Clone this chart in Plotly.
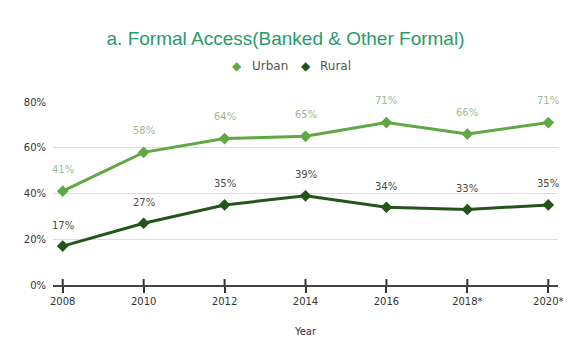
import plotly.graph_objects as go

years = ["2008", "2010", "2012", "2014", "2016", "2018", "2020"]
year_labels = ["2008", "2010", "2012", "2014", "2016", "2018*", "2020*"]
urban = [41, 58, 64, 65, 71, 66, 71]
rural = [17, 27, 35, 39, 34, 33, 35]
series_names = ["Urban", "Rural"]

urban_color = "#5fa843"
rural_color = "#24531b"
LBL = "DejaVu Sans"

fig = go.Figure()
fig.add_trace(go.Scatter(x=years, y=urban, name="Urban", mode="lines+markers",
                         line=dict(color=urban_color, width=3), showlegend=False,
                         marker=dict(symbol="diamond", size=9, color=urban_color)))
fig.add_trace(go.Scatter(x=years, y=rural, name="Rural", mode="lines+markers",
                         line=dict(color=rural_color, width=3), showlegend=False,
                         marker=dict(symbol="diamond", size=9, color=rural_color)))

# upper half of the tick marks that cross the x axis line
tx, ty = [], []
for yr in years:
    tx += [yr, yr, None]
    ty += [0, 2.6, None]
fig.add_trace(go.Scatter(x=tx, y=ty, mode="lines", showlegend=False, hoverinfo="skip",
                         line=dict(color="#333", width=2), connectgaps=False))

ann = []
for i, v in enumerate(urban):
    ann.append(dict(x=i, y=v, xref="x", yref="y", text=f"{v}%", showarrow=False,
                    yshift=22, font=dict(size=10, color="#9cbb92", family=LBL)))
for i, v in enumerate(rural):
    ann.append(dict(x=i, y=v, xref="x", yref="y", text=f"{v}%", showarrow=False,
                    yshift=21, font=dict(size=10, color="#4a4a4a", family=LBL)))

# manual legend
leg_x = [0.3647, 0.5]
for name, col, lx in zip(series_names, [urban_color, rural_color], leg_x):
    ann.append(dict(x=lx, y=1.197, xref="paper", yref="paper", text="◆", showarrow=False,
                    xanchor="center", yanchor="middle",
                    font=dict(size=12, color=col, family=LBL)))
    ann.append(dict(x=lx + 0.025, y=1.197, xref="paper", yref="paper", text=name,
                    showarrow=False, xanchor="left", yanchor="middle",
                    font=dict(size=12, color="#555", family=LBL)))

fig.update_layout(
    width=571, height=355,
    margin=dict(l=53, r=8, t=102, b=70),
    paper_bgcolor="white", plot_bgcolor="white",
    showlegend=False,
    title=dict(text="a. Formal Access(Banked & Other Formal)", x=0.5, xanchor="center",
               y=0.893, yanchor="middle",
               font=dict(size=19, color="#2a9a6a", family="Arial")),
    annotations=ann,
    xaxis=dict(type="category", tickvals=years, ticktext=year_labels,
               range=[-0.12, 6.12], showgrid=False, showline=True,
               linecolor="#444", linewidth=1.5, ticks="outside", ticklen=6,
               tickcolor="#333", tickwidth=2,
               tickfont=dict(size=10, color="#333", family=LBL),
               title=dict(text="Year", font=dict(size=10, color="#333", family=LBL),
                          standoff=22)),
    yaxis=dict(range=[0, 80], tickvals=[0, 20, 40, 60, 80],
               ticktext=["0%", "20%", "40%", "60%", "80%"],
               showgrid=True, gridcolor="#dddddd", gridwidth=1, zeroline=False,
               tickfont=dict(size=10, color="#333", family=LBL), ticks="",
               ticklabelstandoff=6),
)

fig.write_html("out.html")
